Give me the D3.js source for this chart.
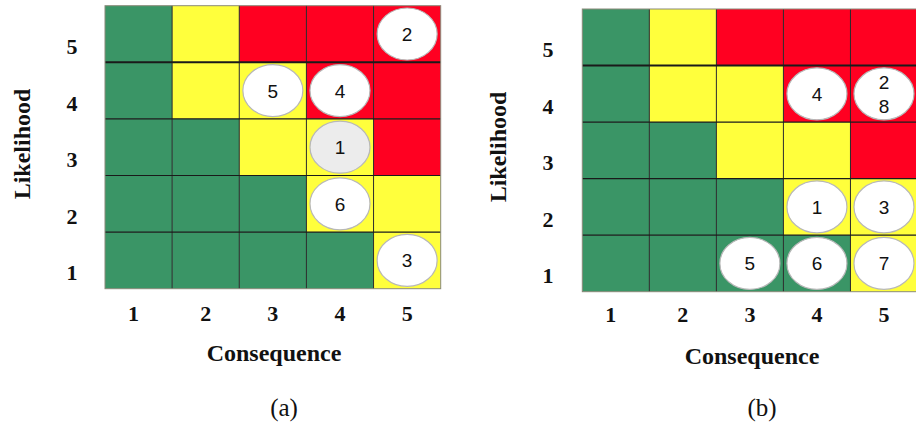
<!DOCTYPE html>
<html>
<head>
<meta charset="utf-8">
<script src="https://cdn.jsdelivr.net/npm/d3@7"></script>
<style>
  html, body { margin: 0; padding: 0; background: #fff; }
  svg { display: block; }
</style>
</head>
<body>
<svg id="chart" width="916" height="427"></svg>
<script>
// Axis categories
const consequence = [1, 2, 3, 4, 5];
const likelihood = [5, 4, 3, 2, 1];

// Risk zone per cell, rows ordered from likelihood 5 down to 1
const zoneRows = [
  ["low", "medium", "high", "high", "high"],
  ["low", "medium", "medium", "high", "high"],
  ["low", "low", "medium", "medium", "high"],
  ["low", "low", "low", "medium", "medium"],
  ["low", "low", "low", "low", "medium"]
];
const zoneColors = { low: "#3a9566", medium: "#ffff3c", high: "#ff0021" };

// Panel (a): risk ids with their consequence / likelihood ratings
const riskIdsA = ["1", "2", "3", "4", "5", "6"];
const riskConsA = [4, 5, 5, 4, 3, 4];
const riskLikeA = [3, 5, 1, 4, 4, 2];
const highlightA = ["1"];

// Panel (b): risk ids after treatment
const riskIdsB = ["1", "2", "3", "4", "5", "6", "7", "8"];
const riskConsB = [4, 5, 5, 4, 3, 4, 5, 5];
const riskLikeB = [2, 4, 2, 4, 1, 1, 1, 4];
const highlightB = [];

const svg = d3.select("#chart");

function panel(opts) {
  const x = d3.scaleBand().domain(consequence).range(opts.xRange);
  const y = d3.scaleBand().domain(likelihood).range(opts.yRange);
  const g = svg.append("g");

  // cells
  const cells = [];
  likelihood.forEach((l, ri) => consequence.forEach((c, ci) => cells.push({ c, l, zone: zoneRows[ri][ci] })));
  g.selectAll("rect.cell").data(cells).enter().append("rect")
    .attr("class", "cell")
    .attr("x", d => x(d.c)).attr("y", d => y(d.l))
    .attr("width", x.bandwidth()).attr("height", y.bandwidth())
    .attr("fill", d => zoneColors[d.zone]);

  // inner grid lines
  g.selectAll("line.v").data(consequence.slice(1)).enter().append("line")
    .attr("x1", d => x(d)).attr("x2", d => x(d))
    .attr("y1", opts.yRange[0]).attr("y2", opts.yRange[1])
    .attr("stroke", "#2a2a2a").attr("stroke-width", 1);
  g.selectAll("line.h").data(likelihood.slice(1)).enter().append("line")
    .attr("y1", d => y(d)).attr("y2", d => y(d))
    .attr("x1", opts.xRange[0]).attr("x2", opts.xRange[1])
    .attr("stroke", "#1a1a1a")
    .attr("stroke-width", d => d === 4 ? 2 : 1.1);
  // outer frame
  g.append("rect")
    .attr("x", opts.xRange[0]).attr("y", opts.yRange[0])
    .attr("width", opts.xRange[1] - opts.xRange[0])
    .attr("height", opts.yRange[1] - opts.yRange[0])
    .attr("fill", "none").attr("stroke", "#8a8a7a").attr("stroke-width", 1);

  // risk markers, grouped by cell
  const groups = d3.groups(opts.ids.map((id, i) => ({ id, c: opts.cons[i], l: opts.like[i] })),
    d => d.c + "-" + d.l);
  const mk = g.selectAll("g.risk").data(groups).enter().append("g")
    .attr("class", "risk")
    .attr("transform", d => `translate(${x(d[1][0].c) + x.bandwidth() / 2},${y(d[1][0].l) + y.bandwidth() / 2})`);
  mk.append("ellipse")
    .attr("rx", 30).attr("ry", 26)
    .attr("fill", d => d[1].some(r => opts.highlight.includes(r.id)) ? "#ececec" : "#ffffff")
    .attr("stroke", "#b8b8b8").attr("stroke-width", 1.2);
  mk.each(function (d) {
    const n = d[1].length;
    const lh = 24;
    d3.select(this).selectAll("text").data(d[1]).enter().append("text")
      .attr("text-anchor", "middle")
      .attr("y", (r, i) => (i - (n - 1) / 2) * lh + 7)
      .attr("font-family", "Liberation Sans, Arial, sans-serif")
      .attr("font-size", 19)
      .attr("fill", "#111")
      .text(r => r.id);
  });

  // tick labels
  const tickFont = "Liberation Serif, Times New Roman, serif";
  g.selectAll("text.yt").data(likelihood).enter().append("text")
    .attr("x", opts.yTickX)
    .attr("y", d => y(d) + y.bandwidth() / 2 + 20)
    .attr("text-anchor", "middle")
    .attr("font-family", tickFont).attr("font-weight", "bold").attr("font-size", 22)
    .attr("fill", "#111")
    .text(d => d);
  g.selectAll("text.xt").data(consequence).enter().append("text")
    .attr("x", d => x(d) + x.bandwidth() / 2 - (d === 1 ? 5 : 0))
    .attr("y", opts.xTickY)
    .attr("text-anchor", "middle")
    .attr("font-family", tickFont).attr("font-weight", "bold").attr("font-size", 22)
    .attr("fill", "#111")
    .text(d => d);

  // axis titles
  g.append("text")
    .attr("x", opts.xTitle[0]).attr("y", opts.xTitle[1])
    .attr("text-anchor", "middle")
    .attr("font-family", tickFont).attr("font-weight", "bold").attr("font-size", 24)
    .attr("fill", "#111")
    .text("Consequence");
  g.append("text")
    .attr("transform", `translate(${opts.yTitle[0]},${opts.yTitle[1]}) rotate(-90)`)
    .attr("text-anchor", "middle")
    .attr("font-family", tickFont).attr("font-weight", "bold").attr("font-size", 24)
    .attr("fill", "#111")
    .text("Likelihood");

  // panel caption
  g.append("text")
    .attr("x", opts.caption[0]).attr("y", opts.caption[1])
    .attr("text-anchor", "middle")
    .attr("font-family", tickFont).attr("font-size", 25)
    .attr("fill", "#111")
    .text(opts.label);
}

panel({
  xRange: [105, 440.7], yRange: [5.7, 288.7],
  ids: riskIdsA, cons: riskConsA, like: riskLikeA, highlight: highlightA,
  yTickX: 72, xTickY: 321, xTitle: [274, 361], yTitle: [30, 144],
  caption: [284, 416], label: "(a)"
});
panel({
  xRange: [582.3, 917.5], yRange: [9, 291.7],
  ids: riskIdsB, cons: riskConsB, like: riskLikeB, highlight: highlightB,
  yTickX: 548, xTickY: 322, xTitle: [752, 364], yTitle: [506, 147],
  caption: [762, 416], label: "(b)"
});
</script>
</body>
</html>
